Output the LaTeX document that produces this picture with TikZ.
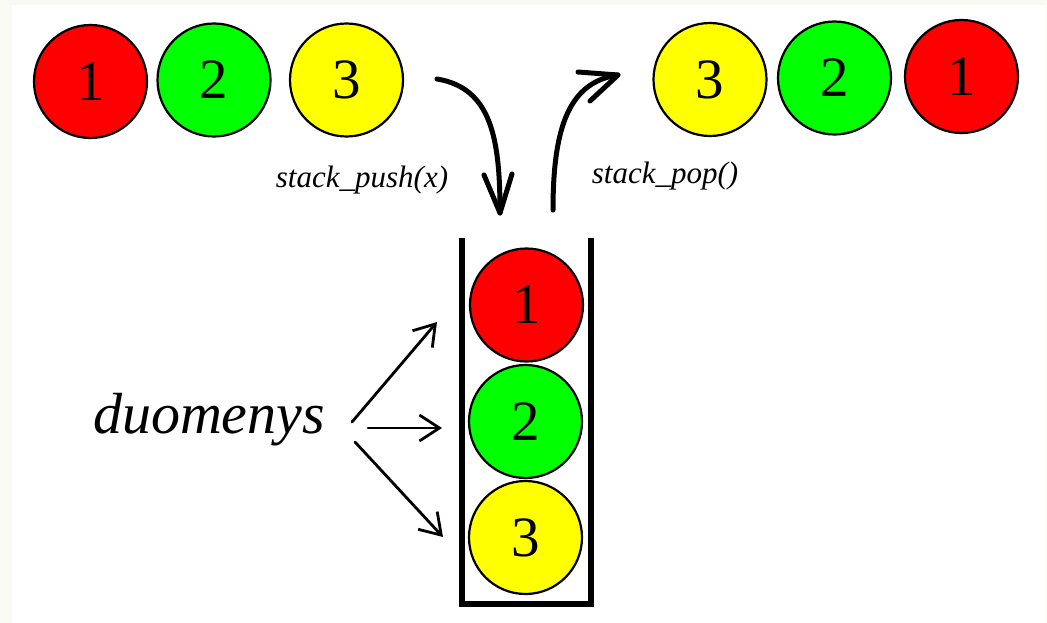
\documentclass[tikz,border=0pt]{standalone}
\usepackage{fontspec}
\setmainfont{Liberation Serif}
\usetikzlibrary{arrows.meta}
\definecolor{ballred}{HTML}{FF0000}
\definecolor{ballgreen}{HTML}{00FF00}
\definecolor{ballyellow}{HTML}{FFFF00}
\definecolor{frame}{HTML}{FAFAF4}
\tikzset{
  ball/.style={circle, draw=black, line width=2.2pt, minimum size=113pt, inner sep=0pt,
    font=\fontsize{57}{57}\selectfont},
  fatline/.style={line width=5pt, line cap=round, line join=round},
  thinarrow/.style={line width=2.8pt, line cap=round,
    -{Straight Barb[length=20pt, width=26pt, line width=2.8pt]}},
  oplabel/.style={font=\itshape\fontsize{31}{31}\selectfont, inner sep=0pt},
}
\begin{document}
\begin{tikzpicture}[x=1pt, y=-1pt]
  % page background with a faint frame
  \fill[frame] (0,0) rectangle (1047,623);
  \fill[white] (12,5) rectangle (1046,623);
  \useasboundingbox (0,0) rectangle (1047,623);

  % incoming items
  \node[ball, fill=ballred]    (in1) at (90.5,81.5) {1};
  \node[ball, fill=ballgreen]  (in2) at (214,80)    {2};
  \node[ball, fill=ballyellow] (in3) at (346.5,80)  {3};

  % outgoing items
  \node[ball, fill=ballyellow] (out3) at (710,79.5)  {3};
  \node[ball, fill=ballgreen]  (out2) at (834.5,78)  {2};
  \node[ball, fill=ballred]    (out1) at (961.5,76.5) {1};

  % stack container
  \coordinate (tl) at (462,238);
  \coordinate (bl) at (462,604);
  \coordinate (br) at (591,604);
  \coordinate (tr) at (591,238);
  \draw[line width=6pt, line join=miter] (tl) -- (bl) -- (br) -- (tr);

  % stacked items
  \node[ball, fill=ballred]    (st1) at (526.5,305)   {1};
  \node[ball, fill=ballgreen]  (st2) at (525.5,421.5) {2};
  \node[ball, fill=ballyellow] (st3) at (525.5,537.5) {3};

  % push arrow: curved stroke with a hand-drawn open head
  \coordinate (pushstart) at (437,79);
  \coordinate (pushend)   at (500,213);
  \coordinate (pushbarbL) at (484,175);
  \coordinate (pushbarbR) at (512,174);
  \draw[fatline] (pushstart) .. controls (492,88) and (500,140) .. (pushend);
  \draw[fatline] (pushbarbL) -- (pushend) -- (pushbarbR);

  % pop arrow
  \coordinate (popstart)  at (553,210);
  \coordinate (popend)    at (618,75);
  \coordinate (popbarbT)  at (578,72);
  \coordinate (popbarbB)  at (590,101);
  \draw[fatline] (popstart) .. controls (553,125) and (570,82) .. (popend);
  \draw[fatline] (popbarbT) -- (popend) -- (popbarbB);

  \node[oplabel] (push) at (362,180) {stack\_push(x)};
  \node[oplabel] (pop)  at (665,176) {stack\_pop()};

  % data label and its arrows
  \node[font=\itshape\fontsize{58}{58}\selectfont, inner sep=0pt] (data) at (209,420) {duomenys};
  \coordinate (a1s) at (352,422);
  \coordinate (a1e) at (437,322);
  \coordinate (a2s) at (368,428);
  \coordinate (a2e) at (442,428);
  \coordinate (a3s) at (355,442);
  \coordinate (a3e) at (443,537);
  \draw[thinarrow] (a1s) -- (a1e);
  \draw[thinarrow] (a2s) -- (a2e);
  \draw[thinarrow] (a3s) -- (a3e);
\end{tikzpicture}
\end{document}
